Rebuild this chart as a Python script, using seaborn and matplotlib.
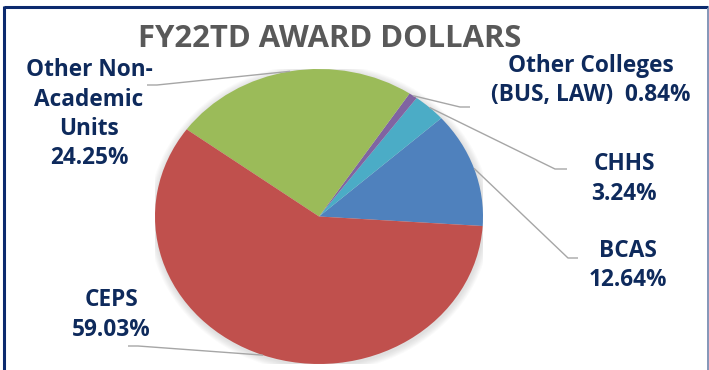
import numpy as np
import matplotlib
matplotlib.use("Agg")
import matplotlib.pyplot as plt
from matplotlib.patches import Ellipse
import seaborn as sns

# Share of FY22-to-date award dollars by unit (percent)
units = ["BCAS", "CHHS", "Other Colleges\n(BUS, LAW)", "Other Non-\nAcademic\nUnits", "CEPS"]
shares = [12.64, 3.24, 0.84, 24.25, 59.03]
value_sep = ["\n", "\n", "  ", "\n", "\n"]
colors = ["#4F81BD", "#4BACC6", "#8064A2", "#9BBB59", "#C0504D"]
title = "FY22TD AWARD DOLLARS"

sns.set_theme(style="white")
plt.rcParams["font.family"] = ["Open Sans", "DejaVu Sans"]

W, H = 709, 370
fig = plt.figure(figsize=(W / 100, H / 100), dpi=100)
fig.patch.set_facecolor("white")

# pie box in pixels (left, top, right, bottom)
pl, pt, pr, pb = 155, 69, 483, 364
cx, cy = (pl + pr) / 2, (pt + pb) / 2
rx, ry = (pr - pl) / 2, (pb - pt) / 2

ax_pie = fig.add_axes([pl / W, 1 - pb / H, (pr - pl) / W, (pb - pt) / H])
start = -3.7

# soft outer shadow of the pie
for k in range(7, 0, -1):
    ax_pie.add_patch(Ellipse((0.004, -0.01), 2 + 2 * k / rx, 2 + 2 * k / ry,
                             facecolor="#7f7f7f", edgecolor="none", alpha=0.035, zorder=0))

wedges, _ = ax_pie.pie(shares, colors=colors, startangle=start, counterclock=True,
                       wedgeprops=dict(linewidth=0, zorder=2))
ax_pie.set_aspect("auto")
ax_pie.set_xlim(-1, 1)
ax_pie.set_ylim(-1, 1)
ax_pie.axis("off")

# overlay in pixel coordinates for labels, leaders and frame
ax = fig.add_axes([0, 0, 1, 1], facecolor="none")
ax.set_xlim(0, W)
ax.set_ylim(H, 0)
ax.axis("off")

navy = "#0E2A5C"
ax.text(330, 47, title, ha="center", va="baseline", fontsize=22.3,
        fontweight="bold", color="#595959")

# label anchors: centre x, first baseline, elbow point, leader end
label_x = [628, 624, 591, 89, 111]
label_y = [257, 170, 72, 76, 306]
elbows = [(568, 258), (555, 169), (460, 107), (157, 85), (138, 346)]
ends = [(578, 258), (567, 169), (470, 107), (147, 85), (128, 346)]
step = 29.5

for i, (name, v) in enumerate(zip(units, shares)):
    lines = (name + value_sep[i] + f"{v:.2f}%").split("\n")
    for j, line in enumerate(lines):
        ax.text(label_x[i], label_y[i] + j * step, line, ha="center", va="baseline",
                fontsize=16.3, fontweight="bold", color=navy)
    w = wedges[i]
    mid = np.deg2rad((w.theta1 + w.theta2) / 2)
    px, py = cx + rx * np.cos(mid), cy - ry * np.sin(mid)
    ax.plot([px, elbows[i][0], ends[i][0]], [py, elbows[i][1], ends[i][1]],
            color="#A6A6A6", lw=1.0, solid_capstyle="butt", zorder=1)

# chart frame
ax.plot([3.5, 708], [7, 7], color="#0B2A6E", lw=2.2, solid_capstyle="butt")
ax.plot([4.2, 4.2], [6, 370], color="#0B2A6E", lw=2.2, solid_capstyle="butt")
ax.plot([707.5, 707.5], [8, 370], color="#8496B8", lw=1.4, solid_capstyle="butt")

fig.savefig("out.png", dpi=100, facecolor="white")
